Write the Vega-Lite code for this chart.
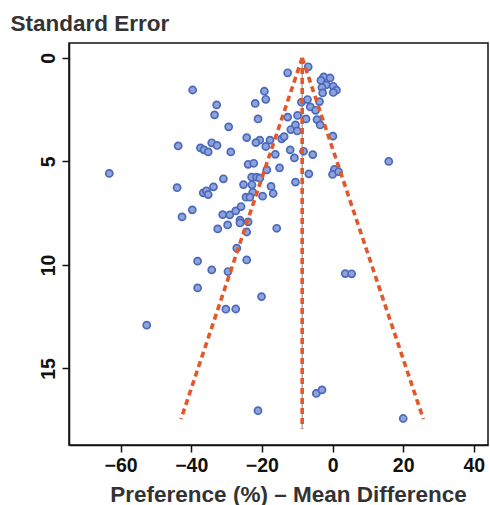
{
  "$schema": "https://vega.github.io/schema/vega-lite/v6.json",
  "width": 419,
  "height": 402,
  "autosize": {"type": "none"},
  "padding": {"left": 69, "top": 43, "right": 2, "bottom": 60},
  "background": "white",
  "config": {
    "view": {"stroke": "#111", "strokeWidth": 1.5},
    "font": "Liberation Sans",
    "axis": {
      "grid": false,
      "domainColor": "#111",
      "domainWidth": 1.5,
      "tickColor": "#111",
      "tickWidth": 1.5,
      "tickSize": 7,
      "labelFont": "Liberation Sans",
      "labelFontSize": 19.5,
      "labelFontWeight": "bold",
      "labelColor": "#111",
      "titleFont": "Liberation Sans",
      "titleFontSize": 22.5,
      "titleFontWeight": "bold",
      "titleColor": "#333"
    }
  },
  "datasets": {
    "points": [
      {"x": -6.9, "se": 0.43}, {"x": -12.7, "se": 0.72}, {"x": -2.5, "se": 0.92}, {"x": -0.7, "se": 0.97},
      {"x": -3.3, "se": 1.09}, {"x": -1.8, "se": 1.3}, {"x": 0.2, "se": 1.37}, {"x": -3.0, "se": 1.43},
      {"x": 1.1, "se": 1.56}, {"x": 0.2, "se": 1.67}, {"x": -2.8, "se": 1.69}, {"x": -19.3, "se": 1.61},
      {"x": -18.9, "se": 2.0}, {"x": -39.6, "se": 1.55}, {"x": -32.8, "se": 2.27}, {"x": -33.4, "se": 2.75},
      {"x": -29.4, "se": 3.33}, {"x": -21.9, "se": 2.2}, {"x": -21.1, "se": 2.95}, {"x": -8.8, "se": 2.14},
      {"x": -7.1, "se": 2.01}, {"x": -3.7, "se": 2.11}, {"x": -6.3, "se": 2.37}, {"x": -4.8, "se": 2.53},
      {"x": -12.7, "se": 2.86}, {"x": -9.9, "se": 2.78}, {"x": -7.5, "se": 2.95}, {"x": -4.4, "se": 2.98},
      {"x": -3.5, "se": 3.24}, {"x": -11.8, "se": 3.46}, {"x": -10.5, "se": 3.24}, {"x": -10.0, "se": 3.53},
      {"x": -14.4, "se": 3.91}, {"x": -13.7, "se": 3.8}, {"x": -17.7, "se": 3.97}, {"x": -20.6, "se": 3.97},
      {"x": -18.9, "se": 4.28}, {"x": -16.2, "se": 4.66}, {"x": -24.3, "se": 3.85}, {"x": -21.7, "se": 4.09},
      {"x": -43.7, "se": 4.25}, {"x": -37.4, "se": 4.35}, {"x": -36.4, "se": 4.44}, {"x": -35.2, "se": 4.54},
      {"x": -34.2, "se": 4.1}, {"x": -32.7, "se": 4.23}, {"x": -28.8, "se": 4.54}, {"x": -12.0, "se": 4.44},
      {"x": -10.8, "se": 4.83}, {"x": -8.2, "se": 4.51}, {"x": -5.6, "se": 4.67}, {"x": 0.1, "se": 3.78},
      {"x": -23.9, "se": 5.14}, {"x": -22.3, "se": 5.09}, {"x": -18.6, "se": 5.41}, {"x": -15.0, "se": 5.31},
      {"x": -6.7, "se": 5.6}, {"x": 0.5, "se": 5.39}, {"x": 0.0, "se": 5.63}, {"x": 1.7, "se": 5.5},
      {"x": 15.9, "se": 5.0}, {"x": -63.2, "se": 5.58}, {"x": -30.9, "se": 5.84}, {"x": -44.0, "se": 6.27},
      {"x": -33.7, "se": 6.23}, {"x": -22.9, "se": 5.76}, {"x": -21.5, "se": 5.76}, {"x": -20.6, "se": 5.81},
      {"x": -25.2, "se": 6.12}, {"x": -22.8, "se": 6.13}, {"x": -17.4, "se": 6.21}, {"x": -10.5, "se": 6.0},
      {"x": -36.6, "se": 6.52}, {"x": -35.7, "se": 6.42}, {"x": -35.2, "se": 6.6}, {"x": -22.6, "se": 6.49},
      {"x": -24.5, "se": 6.73}, {"x": -23.4, "se": 6.73}, {"x": -19.8, "se": 6.68}, {"x": -16.8, "se": 6.55},
      {"x": -39.7, "se": 7.34}, {"x": -42.6, "se": 7.68}, {"x": -31.1, "se": 7.57}, {"x": -29.1, "se": 7.58},
      {"x": -27.4, "se": 7.39}, {"x": -25.9, "se": 7.18}, {"x": -29.7, "se": 8.07}, {"x": -32.5, "se": 8.26},
      {"x": -26.2, "se": 7.84}, {"x": -26.2, "se": 7.97}, {"x": -23.9, "se": 7.92}, {"x": -24.3, "se": 8.41},
      {"x": -15.8, "se": 8.23}, {"x": -27.1, "se": 9.19}, {"x": -38.2, "se": 9.82}, {"x": -34.2, "se": 10.24},
      {"x": -29.6, "se": 10.32}, {"x": -24.3, "se": 9.76}, {"x": -38.2, "se": 11.11}, {"x": -20.1, "se": 11.53},
      {"x": -30.2, "se": 12.14}, {"x": -27.4, "se": 12.13}, {"x": -52.6, "se": 12.91}, {"x": -21.1, "se": 17.04},
      {"x": -4.6, "se": 16.21}, {"x": -3.0, "se": 16.04}, {"x": 20.0, "se": 17.42}, {"x": 3.6, "se": 10.42},
      {"x": 5.4, "se": 10.43}
    ],
    "lines": [
      {"x1": -8.6, "y1": 0.0, "x2": -42.9, "y2": 17.45},
      {"x1": -8.6, "y1": 0.0, "x2": 25.7, "y2": 17.45},
      {"x1": -8.6, "y1": 0.0, "x2": -8.6, "y2": 17.9}
    ]
  },
  "layer": [
    {
      "data": {"name": "lines"},
      "transform": [{"filter": "datum.x1 == datum.x2"}],
      "mark": {"type": "rule", "color": "#999999", "strokeWidth": 1.2},
      "encoding": {
        "x": {"field": "x1", "type": "quantitative"},
        "y": {"field": "y1", "type": "quantitative"},
        "x2": {"field": "x2"},
        "y2": {"field": "y2"}
      }
    },
    {
      "data": {"name": "points"},
      "mark": {"type": "point", "shape": "circle", "filled": true, "size": 50, "fill": "#8ea4d8", "stroke": "#4a68bd", "strokeWidth": 1.7, "opacity": 1},
      "encoding": {
        "x": {
          "field": "x", "type": "quantitative",
          "scale": {"domain": [-74.6, 44], "nice": false, "zero": false},
          "axis": {"values": [-60, -40, -20, 0, 20, 40], "title": "Preference (%) – Mean Difference", "labelPadding": 4, "titleX": 219, "titleY": 56, "titleBaseline": "alphabetic", "titleAnchor": "middle"}
        },
        "y": {
          "field": "se", "type": "quantitative",
          "scale": {"domain": [-0.72, 18.7], "nice": false, "zero": false, "reverse": true},
          "axis": {"values": [0, 5, 10, 15], "labelAngle": -90, "labelPadding": 4, "title": "Standard Error", "titleAngle": 0, "titleAlign": "left", "titleBaseline": "alphabetic", "titleX": -59, "titleY": -13}
        }
      }
    },
    {
      "data": {"name": "lines"},
      "mark": {"type": "rule", "color": "#e2582b", "strokeWidth": 3.6, "strokeDash": [6, 4]},
      "encoding": {
        "x": {"field": "x1", "type": "quantitative"},
        "y": {"field": "y1", "type": "quantitative"},
        "x2": {"field": "x2"},
        "y2": {"field": "y2"}
      }
    }
  ]
}
